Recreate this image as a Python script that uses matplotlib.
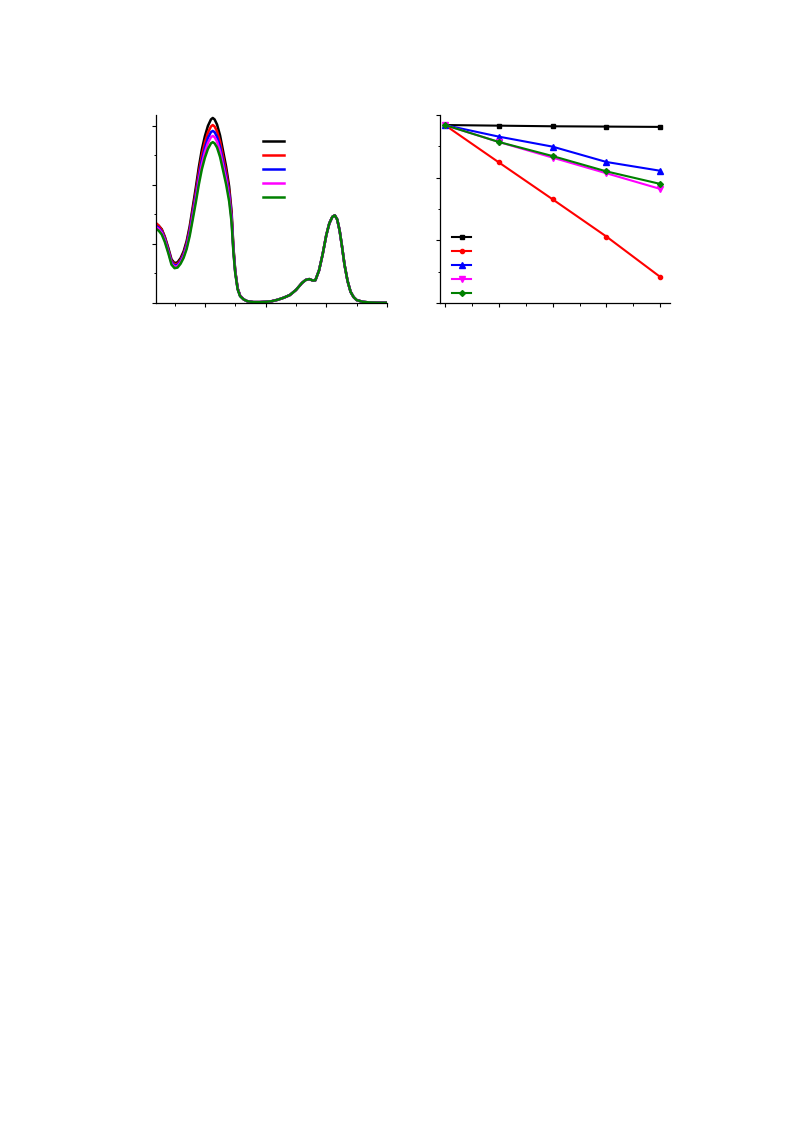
import numpy as np
import matplotlib
matplotlib.use("Agg")
import matplotlib.pyplot as plt
from matplotlib.ticker import MultipleLocator

# ---- left panel: absorption spectra ----
wl_head = [219, 224, 229, 234, 240, 245, 250, 255, 260, 265, 270, 275, 280, 285, 290,
           295, 300, 305, 310, 313, 316, 320, 325, 330, 335, 340, 344, 347, 350, 354,
           358, 364, 370]
abs_black = [0.270, 0.262, 0.250, 0.225, 0.185, 0.148, 0.135, 0.138, 0.152, 0.175, 0.210,
             0.260, 0.325, 0.390, 0.460, 0.520, 0.565, 0.600, 0.622, 0.627, 0.622, 0.605,
             0.568, 0.515, 0.462, 0.395, 0.310, 0.190, 0.110, 0.050, 0.025, 0.012, 0.006]
abs_red = [0.272, 0.262, 0.248, 0.222, 0.180, 0.143, 0.131, 0.133, 0.146, 0.168, 0.202,
           0.250, 0.313, 0.375, 0.442, 0.500, 0.544, 0.577, 0.598, 0.603, 0.598, 0.582,
           0.547, 0.496, 0.445, 0.380, 0.300, 0.186, 0.108, 0.049, 0.025, 0.012, 0.006]
abs_blue = [0.262, 0.255, 0.242, 0.217, 0.176, 0.139, 0.127, 0.129, 0.142, 0.163, 0.196,
            0.242, 0.303, 0.363, 0.428, 0.484, 0.526, 0.559, 0.579, 0.583, 0.579, 0.563,
            0.529, 0.480, 0.430, 0.368, 0.290, 0.180, 0.106, 0.048, 0.024, 0.012, 0.006]
abs_magenta = [0.258, 0.251, 0.238, 0.213, 0.172, 0.135, 0.123, 0.125, 0.138, 0.158, 0.190,
               0.235, 0.294, 0.352, 0.416, 0.470, 0.511, 0.542, 0.562, 0.566, 0.562, 0.547,
               0.514, 0.466, 0.418, 0.357, 0.282, 0.176, 0.104, 0.047, 0.024, 0.012, 0.006]
abs_green = [0.252, 0.245, 0.232, 0.207, 0.167, 0.130, 0.118, 0.120, 0.133, 0.153, 0.183,
             0.227, 0.283, 0.340, 0.401, 0.453, 0.492, 0.522, 0.541, 0.545, 0.541, 0.527,
             0.495, 0.449, 0.402, 0.344, 0.273, 0.172, 0.102, 0.046, 0.023, 0.012, 0.006]
# long-wavelength part is the same for all five spectra
wl_tail = [380, 390, 400, 410, 420, 430, 440, 450, 460, 466, 472, 478, 482, 488, 494, 500,
           505, 510, 514, 518, 522, 526, 530, 535, 540, 545, 550, 560, 570, 585, 600]
abs_tail = [0.003, 0.003, 0.004, 0.006, 0.011, 0.018, 0.027, 0.044, 0.068, 0.078, 0.081,
            0.076, 0.077, 0.110, 0.165, 0.230, 0.270, 0.292, 0.297, 0.283, 0.245, 0.190,
            0.130, 0.075, 0.038, 0.020, 0.010, 0.004, 0.002, 0.001, 0.001]

# ---- right panel: kinetics ----
time = [0, 10, 20, 30, 40]
c_black = [0.968, 0.966, 0.964, 0.963, 0.962]
c_red = [0.968, 0.849, 0.731, 0.612, 0.483]
c_blue = [0.968, 0.931, 0.899, 0.850, 0.822]
c_magenta = [0.968, 0.914, 0.864, 0.814, 0.764]
c_green = [0.968, 0.914, 0.869, 0.820, 0.780]

colors = ['black', 'red', 'blue', 'magenta', 'green']
markers = ['s', 'o', '^', 'v', 'D']
msizes = [3.2, 3, 4, 4, 3]

fig = plt.figure(figsize=(7.93, 11.23), dpi=100)
ax1 = fig.add_axes([156/793, 1-303/1123, 231/793, 188/1123])
ax2 = fig.add_axes([440/793, 1-303/1123, 230/793, 188/1123])

wl = np.concatenate([wl_head, wl_tail])
for ys, c in zip([abs_black, abs_red, abs_blue, abs_magenta, abs_green], colors):
    ax1.plot(wl, np.concatenate([ys, abs_tail]), color=c, lw=1.8, label=' ')
ax1.set_xlim(219.5, 600)
ax1.set_ylim(0, 0.637)
ax1.xaxis.set_major_locator(MultipleLocator(100))
ax1.xaxis.set_minor_locator(MultipleLocator(50))
ax1.yaxis.set_major_locator(MultipleLocator(0.2))
ax1.yaxis.set_minor_locator(MultipleLocator(0.1))

for ys, c, m, ms in zip([c_black, c_red, c_blue, c_magenta, c_green], colors, markers, msizes):
    ax2.plot(time, ys, color=c, lw=1.5, marker=m, markersize=ms, label=' ')
ax2.set_xlim(-0.9, 41.8)
ax2.set_ylim(0.4, 1.0)
ax2.xaxis.set_major_locator(MultipleLocator(10))
ax2.xaxis.set_minor_locator(MultipleLocator(5))
ax2.yaxis.set_major_locator(MultipleLocator(0.2))
ax2.yaxis.set_minor_locator(MultipleLocator(0.1))

for ax in (ax1, ax2):
    ax.spines['top'].set_visible(False)
    ax.spines['right'].set_visible(False)
    for s in ('left', 'bottom'):
        ax.spines[s].set_linewidth(0.9)
    ax.tick_params(which='major', direction='out', length=3, width=0.8,
                   labelleft=False, labelbottom=False)
    ax.tick_params(which='minor', direction='out', length=1.8, width=0.7)

ax1.legend(loc='upper left', bbox_to_anchor=(263/793, 1-136/1123), bbox_transform=fig.transFigure,
           frameon=False, fontsize=7, labelspacing=0.42, handlelength=2.15, handletextpad=0,
           borderpad=0, borderaxespad=0)
ax2.legend(loc='upper left', bbox_to_anchor=(452/793, 1-232/1123), bbox_transform=fig.transFigure,
           frameon=False, fontsize=7, labelspacing=0.42, handlelength=2.0, handletextpad=0,
           borderpad=0, borderaxespad=0, numpoints=1)

fig.savefig('out.png', dpi=100)
